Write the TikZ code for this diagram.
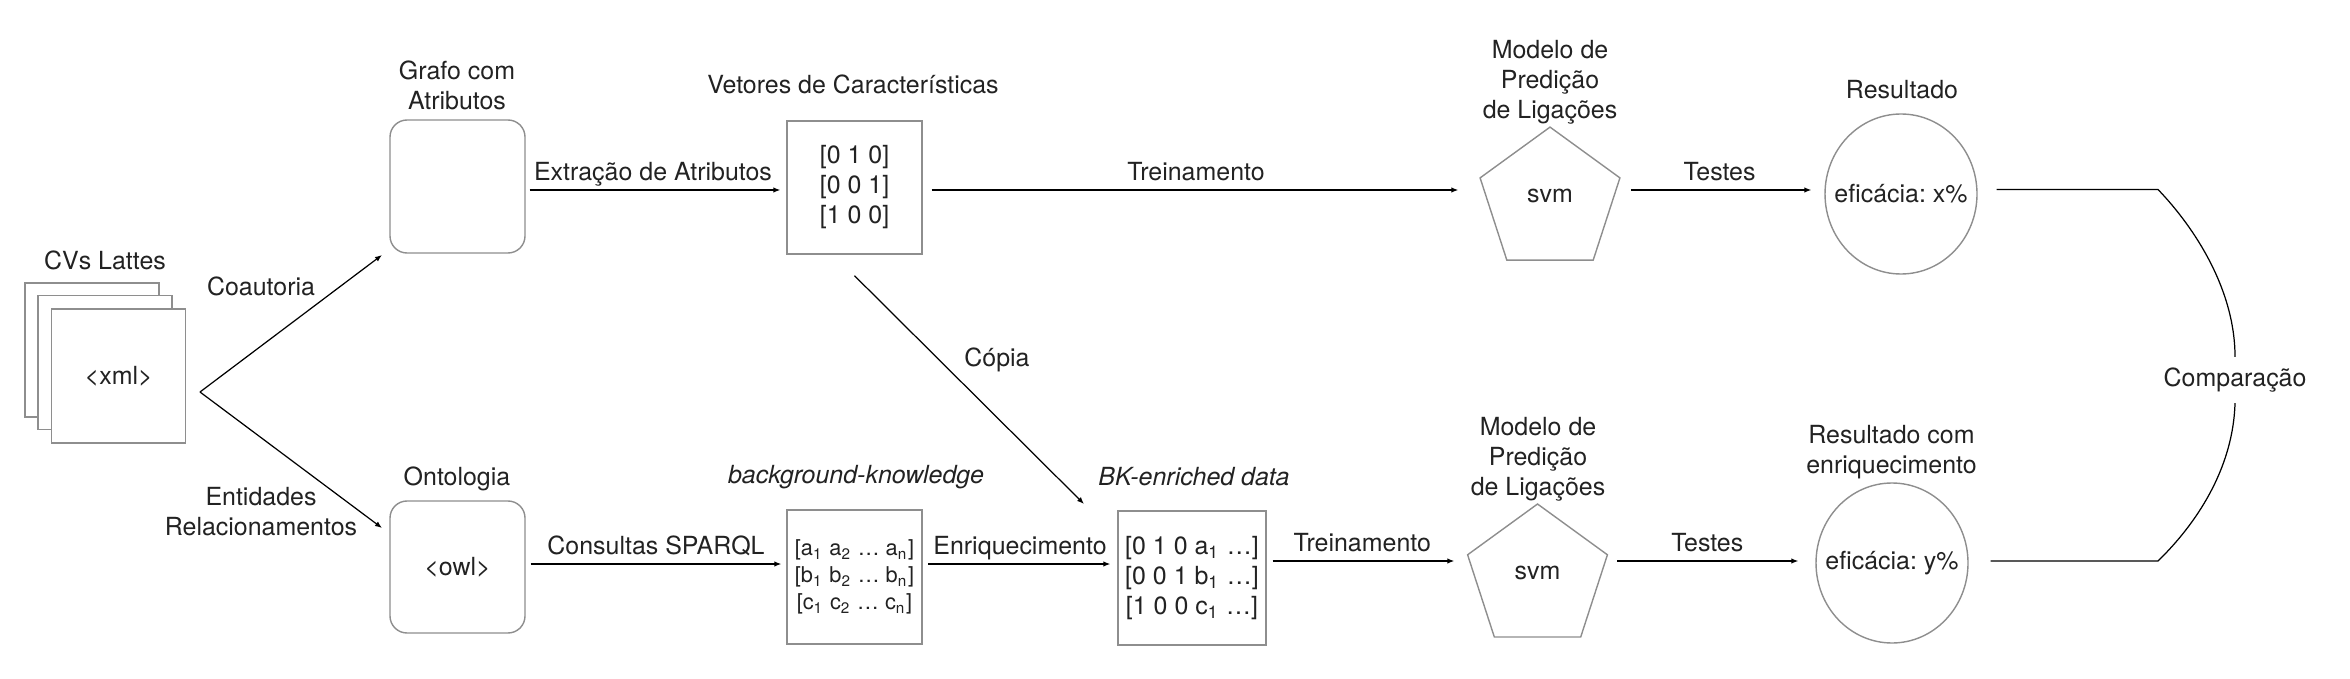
\documentclass[tikz,border=0pt]{standalone}
\usepackage{fontspec}
\setmainfont{TeX Gyre Heros}
\usetikzlibrary{arrows.meta,shapes.geometric}
\definecolor{boxgray}{HTML}{8E8E8E}
\definecolor{inkgray}{HTML}{222222}
\frenchspacing

\begin{document}
\begin{tikzpicture}[
  font=\fontsize{7.1}{8.54}\selectfont,
  text=inkgray,
  >={Latex[length=.07cm,width=.055cm]},
  docbox/.style={draw=boxgray, fill=white, line width=.4pt, inner sep=0pt,
    minimum width=1.35cm, minimum height=1.33cm, align=center},
  softbox/.style={docbox, rounded corners=.17cm},
  model/.style={draw=boxgray, line width=.4pt, regular polygon, regular polygon sides=5,
    minimum size=1.47cm, inner sep=0pt, text height=.12cm, text depth=.09cm},
  outcome/.style={draw=boxgray, line width=.4pt, ellipse, inner sep=0pt,
    minimum width=1.52cm, minimum height=1.6cm},
  caption/.style={align=center, inner sep=0pt},
  flow/.style={->, line width=.35pt, draw=black},
  link/.style={line width=.35pt, draw=black},
  edgelabel/.style={inner sep=0pt, text depth=0pt}
]
  \useasboundingbox (0,0) rectangle (23.5,6.78);

  % stack of documents
  \node[docbox, minimum width=1.34cm, minimum height=1.34cm] (cvback) at (.918,3.28) {};
  \node[docbox, minimum width=1.34cm, minimum height=1.34cm] (cvmid) at (1.048,3.155) {};
  \node[docbox, minimum width=1.34cm, minimum height=1.34cm] (cvfront) at (1.187,3.02) {<xml>};
  \node[caption] (cvcap) at (1.05,4.18) {CVs Lattes};

  % upper row
  \node[softbox] (grafo) at (4.575,4.915) {};
  \node[caption] (grafocap) at (4.57,5.93) {Grafo com\\Atributos};
  \node[docbox] (vetores) at (8.545,4.905) {[0 1 0]\\{}[0 0 1]\\{}[1 0 0]};
  \node[caption] (vetorescap) at (8.53,5.94) {Vetores de Características};
  \node[model] (svmtop) at (15.50,4.774) {svm};
  \node[caption] (svmtopcap) at (15.50,5.96) {Modelo de\\Predição\\de Ligações};
  \node[outcome] (restop) at (19.01,4.84) {\makebox[0pt]{eficácia: x\%}};
  \node[caption] (restopcap) at (19.02,5.88) {Resultado};

  % lower row
  \node[softbox, minimum height=1.32cm] (owl) at (4.575,1.11) {<owl>};
  \node[caption] (owlcap) at (4.57,1.99) {Ontologia};
  \node[docbox, minimum height=1.34cm, font=\fontsize{6.2}{7.7}\selectfont] (bk) at (8.545,1.01)
    {[a\textsubscript{1} a\textsubscript{2} … a\textsubscript{n}]\\{}%
     [b\textsubscript{1} b\textsubscript{2} … b\textsubscript{n}]\\{}%
     [c\textsubscript{1} c\textsubscript{2} … c\textsubscript{n}]};
  \node[caption] (bkcap) at (8.56,2.01) {\itshape background-knowledge};
  \node[docbox, minimum width=1.48cm, minimum height=1.34cm] (enriched) at (11.92,1.00)
    {[0 1 0 a\textsubscript{1} …]\\{}[0 0 1 b\textsubscript{1} …]\\{}[1 0 0 c\textsubscript{1} …]};
  \node[caption] (enrichedcap) at (11.94,2.01) {\itshape BK-enriched data};
  \node[model] (svmbot) at (15.375,1.005) {svm};
  \node[caption] (svmbotcap) at (15.38,2.19) {Modelo de\\Predição\\de Ligações};
  \node[outcome] (resbot) at (18.92,1.15) {\makebox[0pt]{eficácia: y\%}};
  \node[caption] (resbotcap) at (18.915,2.255) {Resultado com\\enriquecimento};

  \node[inner sep=0pt, minimum height=.45cm] (compare) at (22.35,2.98) {Comparação};

  \coordinate (fork) at (2.00,2.86);
  \coordinate (grafoin) at (3.82,4.23);
  \coordinate (owlin) at (3.82,1.50);
  \coordinate (copyend) at (10.84,1.74);
  \coordinate (rowtop) at (0,4.88);
  \coordinate (rowlow) at (0,1.14);
  \coordinate (rowbot) at (0,1.17);
  \coordinate (turntop) at (21.58,4.885);
  \coordinate (turnbot) at (21.58,1.17);

  \draw[flow] (fork) -- (grafoin);
  \draw[flow] (fork) -- (owlin);
  \node[caption] (coautoria) at (2.61,3.92) {Coautoria};
  \node[caption] (entidades) at (2.61,1.665) {Entidades\\Relacionamentos};

  \draw[flow, shorten <=.04cm, shorten >=.06cm] (grafo.east |- rowtop) --
    node[midway, above=.09cm, xshift=-.03cm, edgelabel] {Extração de Atributos} (vetores.west |- rowtop);
  \draw[flow, shorten <=.09cm, shorten >=.21cm] (vetores.east |- rowtop) --
    node[midway, above=.09cm, xshift=-.05cm, edgelabel] {Treinamento} (svmtop.corner 2 |- rowtop);
  \draw[flow, shorten <=.1cm, shorten >=.13cm] (svmtop.corner 5 |- rowtop) --
    node[midway, above=.09cm, xshift=-.03cm, edgelabel] {Testes} (restop.west |- rowtop);

  \draw[flow, shorten <=.05cm, shorten >=.05cm] (owl.east |- rowlow) --
    node[midway, above=.09cm, edgelabel] {Consultas SPARQL} (bk.west |- rowlow);
  \draw[flow, shorten <=.055cm, shorten >=.07cm] (bk.east |- rowlow) --
    node[midway, above=.09cm, edgelabel] {Enriquecimento} (enriched.west |- rowlow);
  \draw[flow, shorten <=.06cm, shorten >=.125cm] (enriched.east |- rowbot) --
    node[midway, above=.09cm, xshift=-.045cm, edgelabel] {Treinamento} (svmbot.corner 2 |- rowbot);
  \draw[flow, shorten <=.09cm, shorten >=.17cm] (svmbot.corner 5 |- rowbot) --
    node[midway, above=.09cm, xshift=-.045cm, edgelabel] {Testes} (resbot.west |- rowbot);

  \draw[flow] ([yshift=-.21cm]vetores.south) -- (copyend);
  \node[caption] (copia) at (9.97,3.18) {Cópia};

  % comparison bracket
  \draw[link, shorten <=.19cm] (restop.east |- turntop) -- (turntop)
    .. controls (21.95,4.50) and (22.35,3.88) .. (compare.north);
  \draw[link, shorten <=.22cm] (resbot.east |- turnbot) -- (turnbot)
    .. controls (21.95,1.53) and (22.33,2.08) .. (compare.south);
\end{tikzpicture}
\end{document}
